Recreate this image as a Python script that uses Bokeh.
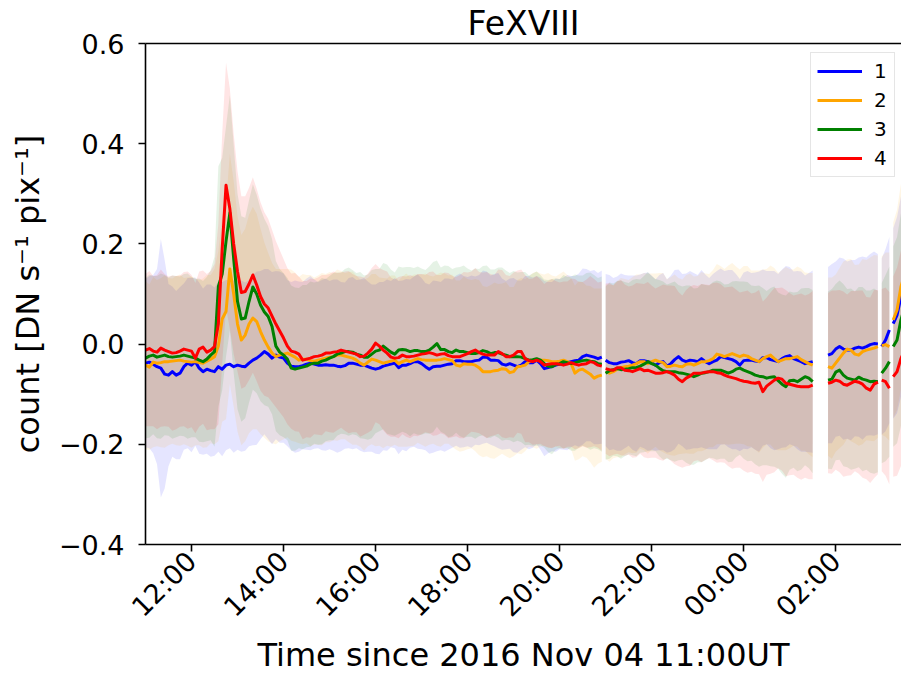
import numpy as np
from bokeh.plotting import figure
from bokeh.models import Range1d, FixedTicker, LinearAxis, Legend, LegendItem, ColumnDataSource
from bokeh.embed import file_html
from bokeh.resources import INLINE

# ---------------- data ----------------
# observation segments, minutes since 2016 Nov 04 11:00 UT (5-minute cadence), data gaps between them
segment_bounds_min = [(0, 595), (600, 870), (890, 955), (960, 970), (975, 990)]
cadence_min = 5
series_names = ["1", "2", "3", "4"]
series_colors = ["blue", "orange", "green", "red"]

count_1 = [
    -0.038, -0.036, -0.040, -0.045, -0.048, -0.060, -0.062, -0.055, -0.062, -0.058,
    -0.045, -0.038, -0.042, -0.035, -0.048, -0.055, -0.050, -0.053, -0.055, -0.045,
    -0.050, -0.042, -0.040, -0.045, -0.042, -0.044, -0.045, -0.038, -0.032, -0.028,
    -0.022, -0.015, -0.020, -0.028, -0.022, -0.026, -0.028, -0.038, -0.044, -0.045,
    -0.045, -0.043, -0.040, -0.038, -0.040, -0.042, -0.042, -0.041, -0.042, -0.042,
    -0.044, -0.045, -0.043, -0.038, -0.038, -0.040, -0.042, -0.042, -0.045, -0.048,
    -0.050, -0.048, -0.044, -0.042, -0.040, -0.038,
    -0.047, -0.042, -0.042, -0.039, -0.035, -0.035, -0.039, -0.045, -0.050, -0.045,
    -0.044, -0.044, -0.042, -0.040, -0.039, -0.033, -0.033, -0.035, -0.035, -0.035,
    -0.033, -0.032, -0.026, -0.026, -0.032, -0.032, -0.033, -0.040, -0.042, -0.039,
    -0.042, -0.045, -0.042, -0.035, -0.037, -0.037, -0.032, -0.039, -0.049, -0.047,
    -0.045, -0.042, -0.040, -0.039, -0.037, -0.035, -0.033, -0.032, -0.025, -0.022,
    -0.024, -0.026, -0.029, -0.026,
    -0.032, -0.037, -0.039, -0.039, -0.036, -0.035, -0.033, -0.037, -0.039, -0.033, -0.033,
    -0.035, -0.037, -0.042, -0.037, -0.035, -0.044, -0.039, -0.031, -0.025, -0.032,
    -0.035, -0.032, -0.033, -0.035, -0.029, -0.035, -0.039, -0.035, -0.032, -0.025,
    -0.027, -0.029, -0.031, -0.035, -0.042, -0.033, -0.032, -0.032, -0.034, -0.035,
    -0.027, -0.027, -0.031, -0.033, -0.035, -0.029, -0.025, -0.023, -0.029, -0.032,
    -0.035, -0.039, -0.037, -0.035,
    -0.022, -0.019, -0.010, -0.005, -0.010, -0.012, -0.012, -0.008, -0.006, -0.008,
    -0.005, -0.001, 0.001, 0.000,
    -0.005, 0.008, 0.028,
    0.041, 0.058, 0.094, 0.120,
]
count_2 = [
    -0.042, -0.046, -0.036, -0.038, -0.037, -0.035, -0.035, -0.034, -0.033, -0.032,
    -0.034, -0.035, -0.036, -0.035, -0.037, -0.038, -0.034, -0.030,
    -0.025, -0.004, 0.050, 0.065, 0.150, 0.100, 0.040, 0.008, 0.018, 0.040,
    0.052, 0.045, 0.025, 0.008, -0.006, -0.018, -0.025, -0.022, -0.020, -0.018,
    -0.022, -0.026, -0.032, -0.030, -0.030, -0.033, -0.034, -0.032, -0.030, -0.028,
    -0.026, -0.025, -0.022, -0.022, -0.024, -0.026, -0.028, -0.032, -0.038, -0.042,
    -0.036, -0.030, -0.032, -0.035, -0.038, -0.036, -0.034, -0.032,
    -0.039, -0.035, -0.032, -0.035, -0.032, -0.029, -0.031, -0.032, -0.032, -0.032,
    -0.032, -0.031, -0.029, -0.031, -0.033, -0.042, -0.044, -0.039, -0.040, -0.040,
    -0.042, -0.047, -0.055, -0.055, -0.055, -0.053, -0.052, -0.049, -0.050, -0.057,
    -0.055, -0.045, -0.044, -0.042, -0.035, -0.032, -0.032, -0.032, -0.032, -0.033,
    -0.035, -0.035, -0.034, -0.032, -0.035, -0.039, -0.058, -0.052, -0.050, -0.055,
    -0.060, -0.068, -0.064, -0.062,
    -0.055, -0.058, -0.055, -0.050, -0.047, -0.045, -0.044, -0.042, -0.039, -0.035, -0.035,
    -0.039, -0.035, -0.032, -0.035, -0.037, -0.045, -0.044, -0.042, -0.044, -0.045,
    -0.040, -0.039, -0.042, -0.039, -0.035, -0.035, -0.033, -0.029, -0.020, -0.022,
    -0.025, -0.022, -0.019, -0.022, -0.025, -0.022, -0.024, -0.029, -0.032, -0.035,
    -0.029, -0.025, -0.022, -0.029, -0.035, -0.032, -0.029, -0.029, -0.027, -0.025,
    -0.031, -0.035, -0.039, -0.042,
    -0.045, -0.048, -0.038, -0.028, -0.018, -0.010, -0.012, -0.020, -0.022, -0.015,
    -0.012, -0.010, -0.008, -0.005,
    -0.003, -0.001, -0.005,
    0.048, 0.068, 0.114, 0.140,
]
count_3 = [
    -0.028, -0.024, -0.022, -0.026, -0.024, -0.022, -0.025, -0.026, -0.025, -0.024,
    -0.022, -0.024, -0.026, -0.028, -0.032, -0.035, -0.030, -0.022,
    -0.015, 0.115, 0.140, 0.205, 0.262, 0.170, 0.085, 0.050, 0.052, 0.085,
    0.114, 0.100, 0.078, 0.064, 0.055, 0.035, -0.004, -0.016, -0.022, -0.030,
    -0.048, -0.050, -0.048, -0.046, -0.044, -0.040, -0.038, -0.038, -0.034, -0.032,
    -0.028, -0.025, -0.020, -0.018, -0.015, -0.015, -0.016, -0.020, -0.022, -0.026,
    -0.026, -0.020, -0.014, -0.012, -0.004, -0.010, -0.016, -0.020,
    -0.012, -0.011, -0.012, -0.015, -0.013, -0.013, -0.015, -0.015, -0.012, -0.006,
    0.001, -0.011, -0.011, -0.015, -0.017, -0.012, -0.015, -0.015, -0.017, -0.019,
    -0.019, -0.017, -0.013, -0.015, -0.019, -0.017, -0.017, -0.020, -0.022, -0.025,
    -0.025, -0.025, -0.026, -0.029, -0.032, -0.031, -0.029, -0.032, -0.039, -0.044,
    -0.045, -0.040, -0.039, -0.035, -0.037, -0.039, -0.037, -0.035, -0.033, -0.032,
    -0.034, -0.035, -0.039, -0.040,
    -0.058, -0.053, -0.051, -0.049, -0.051, -0.050, -0.049, -0.047, -0.047, -0.044, -0.040,
    -0.035, -0.039, -0.042, -0.048, -0.053, -0.055, -0.055, -0.055, -0.057, -0.058,
    -0.060, -0.062, -0.065, -0.062, -0.058, -0.057, -0.055, -0.052, -0.052, -0.052,
    -0.055, -0.058, -0.055, -0.050, -0.048, -0.052, -0.055, -0.058, -0.062, -0.064,
    -0.065, -0.068, -0.066, -0.065, -0.073, -0.080, -0.085, -0.073, -0.072, -0.075,
    -0.070, -0.065, -0.068, -0.075,
    -0.072, -0.070, -0.056, -0.052, -0.062, -0.068, -0.070, -0.072, -0.066, -0.070,
    -0.072, -0.075, -0.074, -0.075,
    -0.058, -0.048, -0.035,
    -0.005, 0.008, 0.048, 0.074,
]
count_4 = [
    -0.012, -0.009, -0.014, -0.016, -0.008, -0.012, -0.015, -0.018, -0.017, -0.014,
    -0.010, -0.012, -0.014, -0.028, -0.010, -0.006, -0.016, -0.012,
    -0.005, 0.040, 0.190, 0.317, 0.270, 0.200, 0.145, 0.103, 0.105, 0.120,
    0.138, 0.118, 0.095, 0.080, 0.072, 0.056, 0.040, 0.026, 0.012, -0.004,
    -0.014, -0.016, -0.020, -0.032, -0.030, -0.028, -0.025, -0.024, -0.022, -0.018,
    -0.018, -0.016, -0.015, -0.012, -0.014, -0.016, -0.018, -0.020, -0.025, -0.024,
    -0.018, -0.010, 0.002, -0.004, -0.012, -0.018, -0.026, -0.028,
    -0.027, -0.022, -0.025, -0.025, -0.024, -0.022, -0.020, -0.019, -0.017, -0.019,
    -0.022, -0.020, -0.019, -0.023, -0.025, -0.025, -0.025, -0.022, -0.019, -0.015,
    -0.012, -0.017, -0.020, -0.022, -0.022, -0.022, -0.015, -0.019, -0.025, -0.025,
    -0.022, -0.015, -0.015, -0.029, -0.033, -0.035, -0.032, -0.035, -0.042, -0.040,
    -0.039, -0.039, -0.040, -0.042, -0.040, -0.037, -0.040, -0.042, -0.040, -0.039,
    -0.035, -0.037, -0.042, -0.044,
    -0.049, -0.051, -0.052, -0.047, -0.047, -0.052, -0.053, -0.055, -0.052, -0.049, -0.053,
    -0.052, -0.055, -0.058, -0.058, -0.057, -0.055, -0.058, -0.062, -0.070, -0.075,
    -0.068, -0.064, -0.058, -0.058, -0.058, -0.056, -0.055, -0.055, -0.057, -0.058,
    -0.062, -0.065, -0.067, -0.069, -0.072, -0.074, -0.075, -0.077, -0.078, -0.076,
    -0.095, -0.084, -0.078, -0.072, -0.068, -0.070, -0.078, -0.080, -0.082, -0.084,
    -0.085, -0.085, -0.085, -0.082,
    -0.078, -0.076, -0.072, -0.074, -0.080, -0.082, -0.078, -0.074, -0.076, -0.080,
    -0.088, -0.092, -0.080, -0.076,
    -0.072, -0.075, -0.088,
    -0.065, -0.055, -0.029, -0.012,
]

# spread (1 sigma) of each series
sigma_1 = [
    0.168, 0.172, 0.178, 0.195, 0.258, 0.228, 0.182, 0.170, 0.168, 0.172,
    0.166, 0.170, 0.174, 0.168, 0.171, 0.166, 0.169, 0.172, 0.168, 0.170,
    0.174, 0.170, 0.168, 0.172, 0.169, 0.171, 0.168, 0.166, 0.170, 0.173,
    0.168, 0.165, 0.170, 0.172, 0.168, 0.171, 0.169, 0.166, 0.168, 0.172,
    0.170, 0.167, 0.171, 0.174, 0.169, 0.166, 0.170, 0.172, 0.168, 0.171,
    0.173, 0.169, 0.166, 0.170, 0.172, 0.168, 0.171, 0.174, 0.170, 0.167,
    0.169, 0.172, 0.168, 0.171, 0.166, 0.170, 0.173, 0.169, 0.172, 0.168,
    0.170, 0.174, 0.171, 0.167, 0.169, 0.172, 0.170, 0.168, 0.173, 0.171,
    0.168, 0.170, 0.174, 0.171, 0.169, 0.172, 0.168, 0.170, 0.173, 0.171,
    0.169, 0.172, 0.175, 0.171, 0.168, 0.170, 0.174, 0.172, 0.169, 0.171,
    0.173, 0.170, 0.168, 0.172, 0.175, 0.171, 0.169, 0.173, 0.170, 0.172,
    0.175, 0.171, 0.169, 0.173, 0.176, 0.172, 0.170, 0.174, 0.171, 0.173,
    0.172, 0.175, 0.171, 0.174, 0.177, 0.173, 0.170, 0.174, 0.176, 0.172,
    0.175, 0.178, 0.174, 0.171, 0.175, 0.177, 0.173, 0.176, 0.179, 0.174,
    0.172, 0.176, 0.178, 0.175, 0.173, 0.177, 0.174, 0.171, 0.175, 0.178,
    0.176, 0.173, 0.177, 0.179, 0.175, 0.172, 0.176, 0.178, 0.174, 0.177,
    0.180, 0.176, 0.173, 0.177, 0.179, 0.175, 0.178, 0.181, 0.177, 0.174,
    0.178, 0.180, 0.176, 0.179, 0.182,
    0.176, 0.179, 0.175, 0.178, 0.181, 0.177, 0.180, 0.176, 0.179, 0.183,
    0.178, 0.181, 0.184, 0.180,
    0.176, 0.182, 0.186,
    0.190, 0.196, 0.200, 0.205,
]
sigma_2 = [
    0.168, 0.165, 0.170, 0.166, 0.169, 0.172, 0.167, 0.165, 0.169, 0.171,
    0.166, 0.168, 0.171, 0.167, 0.165, 0.169, 0.172, 0.168, 0.175, 0.190,
    0.205, 0.215, 0.230, 0.225, 0.215, 0.210, 0.212, 0.218, 0.222, 0.215,
    0.205, 0.195, 0.188, 0.180, 0.175, 0.172, 0.170, 0.168, 0.171, 0.169,
    0.166, 0.170, 0.168, 0.171, 0.167, 0.169, 0.172, 0.168, 0.170, 0.167,
    0.171, 0.168, 0.166, 0.170, 0.173, 0.169, 0.167, 0.171, 0.168, 0.170,
    0.172, 0.168, 0.170, 0.167, 0.171, 0.169, 0.166, 0.170, 0.173, 0.169,
    0.171, 0.168, 0.170, 0.173, 0.169, 0.167, 0.171, 0.174, 0.170, 0.168,
    0.172, 0.169, 0.171, 0.174, 0.170, 0.168, 0.172, 0.175, 0.171, 0.169,
    0.173, 0.176, 0.172, 0.170, 0.174, 0.171, 0.169, 0.173, 0.176, 0.172,
    0.170, 0.174, 0.177, 0.173, 0.171, 0.175, 0.172, 0.170, 0.174, 0.177,
    0.173, 0.171, 0.175, 0.178, 0.174, 0.172, 0.176, 0.179, 0.175, 0.173,
    0.174, 0.177, 0.173, 0.176, 0.179, 0.175, 0.172, 0.176, 0.178, 0.174,
    0.177, 0.180, 0.176, 0.173, 0.177, 0.179, 0.175, 0.178, 0.181, 0.176,
    0.174, 0.178, 0.180, 0.177, 0.175, 0.179, 0.176, 0.173, 0.177, 0.180,
    0.178, 0.175, 0.179, 0.181, 0.177, 0.174, 0.178, 0.180, 0.176, 0.179,
    0.182, 0.178, 0.175, 0.179, 0.181, 0.177, 0.180, 0.183, 0.179, 0.176,
    0.180, 0.182, 0.178, 0.181, 0.184,
    0.178, 0.181, 0.177, 0.180, 0.183, 0.179, 0.182, 0.178, 0.181, 0.185,
    0.180, 0.183, 0.186, 0.182,
    0.178, 0.184, 0.188,
    0.195, 0.200, 0.205, 0.210,
]
sigma_3 = [
    0.160, 0.163, 0.158, 0.162, 0.165, 0.160, 0.158, 0.163, 0.161, 0.159,
    0.162, 0.165, 0.160, 0.158, 0.163, 0.161, 0.164, 0.170, 0.190, 0.240,
    0.232, 0.230, 0.235, 0.228, 0.215, 0.205, 0.200, 0.202, 0.205, 0.198,
    0.192, 0.186, 0.180, 0.175, 0.170, 0.166, 0.164, 0.162, 0.165, 0.163,
    0.160, 0.164, 0.162, 0.165, 0.161, 0.163, 0.166, 0.162, 0.164, 0.167,
    0.163, 0.161, 0.165, 0.168, 0.164, 0.162, 0.166, 0.163, 0.165, 0.168,
    0.164, 0.162, 0.166, 0.169, 0.165, 0.163, 0.167, 0.164, 0.166, 0.169,
    0.165, 0.168, 0.166, 0.163, 0.167, 0.170, 0.166, 0.164, 0.168, 0.171,
    0.167, 0.165, 0.169, 0.172, 0.168, 0.166, 0.170, 0.167, 0.169, 0.172,
    0.168, 0.166, 0.170, 0.173, 0.169, 0.167, 0.171, 0.168, 0.170, 0.173,
    0.169, 0.172, 0.174, 0.170, 0.168, 0.172, 0.175, 0.171, 0.169, 0.173,
    0.171, 0.174, 0.176, 0.172, 0.170, 0.174, 0.177, 0.173, 0.171, 0.175,
    0.173, 0.176, 0.172, 0.175, 0.178, 0.174, 0.171, 0.175, 0.177, 0.173,
    0.176, 0.179, 0.175, 0.172, 0.176, 0.178, 0.174, 0.177, 0.180, 0.175,
    0.173, 0.177, 0.179, 0.176, 0.174, 0.178, 0.175, 0.172, 0.176, 0.179,
    0.177, 0.174, 0.178, 0.180, 0.176, 0.173, 0.177, 0.179, 0.175, 0.178,
    0.181, 0.177, 0.174, 0.178, 0.180, 0.176, 0.179, 0.182, 0.178, 0.175,
    0.179, 0.181, 0.177, 0.180, 0.183,
    0.177, 0.180, 0.176, 0.179, 0.182, 0.178, 0.181, 0.177, 0.180, 0.184,
    0.179, 0.182, 0.185, 0.181,
    0.180, 0.186, 0.190,
    0.200, 0.206, 0.212, 0.218,
]
sigma_4 = [
    0.152, 0.155, 0.150, 0.154, 0.157, 0.152, 0.150, 0.155, 0.153, 0.151,
    0.154, 0.157, 0.152, 0.150, 0.155, 0.153, 0.156, 0.158, 0.165, 0.200,
    0.230, 0.245, 0.240, 0.220, 0.200, 0.192, 0.190, 0.192, 0.195, 0.192,
    0.188, 0.183, 0.178, 0.172, 0.166, 0.162, 0.158, 0.156, 0.155, 0.158,
    0.155, 0.158, 0.156, 0.159, 0.155, 0.157, 0.160, 0.156, 0.158, 0.161,
    0.157, 0.155, 0.159, 0.162, 0.158, 0.156, 0.160, 0.157, 0.159, 0.162,
    0.158, 0.156, 0.160, 0.163, 0.159, 0.157, 0.161, 0.158, 0.160, 0.163,
    0.159, 0.162, 0.160, 0.157, 0.161, 0.164, 0.160, 0.158, 0.162, 0.165,
    0.161, 0.159, 0.163, 0.166, 0.162, 0.160, 0.164, 0.161, 0.163, 0.166,
    0.162, 0.160, 0.164, 0.167, 0.163, 0.161, 0.165, 0.162, 0.164, 0.167,
    0.163, 0.166, 0.168, 0.164, 0.162, 0.166, 0.169, 0.165, 0.163, 0.167,
    0.165, 0.168, 0.170, 0.166, 0.164, 0.168, 0.171, 0.167, 0.165, 0.169,
    0.170, 0.173, 0.169, 0.172, 0.175, 0.171, 0.168, 0.172, 0.174, 0.170,
    0.173, 0.176, 0.172, 0.169, 0.173, 0.176, 0.172, 0.175, 0.178, 0.174,
    0.172, 0.176, 0.179, 0.176, 0.174, 0.178, 0.175, 0.173, 0.177, 0.180,
    0.178, 0.175, 0.179, 0.182, 0.178, 0.175, 0.179, 0.182, 0.178, 0.181,
    0.184, 0.180, 0.177, 0.181, 0.184, 0.180, 0.183, 0.186, 0.182, 0.179,
    0.183, 0.186, 0.182, 0.185, 0.188,
    0.180, 0.183, 0.179, 0.182, 0.185, 0.181, 0.184, 0.180, 0.183, 0.187,
    0.182, 0.185, 0.188, 0.184,
    0.182, 0.188, 0.192,
    0.200, 0.208, 0.215, 0.220,
]

x_tick_hours = [1, 3, 5, 7, 9, 11, 13, 15]
x_tick_labels = ["12:00", "14:00", "16:00", "18:00", "20:00", "22:00", "00:00", "02:00"]
y_ticks = [-0.4, -0.2, 0.0, 0.2, 0.4, 0.6]
y_tick_labels = ["\u22120.4", "\u22120.2", "0.0", "0.2", "0.4", "0.6"]
x_view_hours = (0.0, 16.43)
y_view = (-0.4, 0.6)

# ---------------- build ----------------
seg_minutes = [np.arange(a, b + 1, cadence_min) for a, b in segment_bounds_min]
n_total = sum(len(s) for s in seg_minutes)
counts = [count_1, count_2, count_3, count_4]
sigmas = [sigma_1, sigma_2, sigma_3, sigma_4]
for arr in counts + sigmas:
    assert len(arr) == n_total, (len(arr), n_total)

FONT = "DejaVu Sans"
p = figure(width=901, height=677, output_backend="svg", toolbar_location=None,
           x_range=Range1d(*x_view_hours), y_range=Range1d(*y_view),
           min_border_left=145, min_border_right=0, min_border_top=43, min_border_bottom=132,
           title="FeXVIII")
p.title.align = "center"
p.title.text_font = FONT
p.title.text_font_size = "33px"
p.title.text_font_style = "normal"
p.title.text_color = "black"
p.title.standoff = 1
p.grid.visible = False
p.outline_line_color = None
p.background_fill_color = "white"
p.border_fill_color = "white"

# bands
for c, s, col in zip(counts, sigmas, series_colors):
    c = np.array(c); s = np.array(s)
    start = 0
    for mins in seg_minutes:
        n = len(mins)
        src = ColumnDataSource(dict(t=mins / 60.0, lo=c[start:start + n] - s[start:start + n],
                                    hi=c[start:start + n] + s[start:start + n]))
        p.varea(x="t", y1="lo", y2="hi", source=src, fill_color=col, fill_alpha=0.1)
        start += n

# lines
legend_items = []
for c, col, name in zip(counts, series_colors, series_names):
    c = np.array(c)
    start = 0
    first = None
    for mins in seg_minutes:
        n = len(mins)
        src = ColumnDataSource(dict(t=mins / 60.0, v=c[start:start + n]))
        r = p.line(x="t", y="v", source=src, line_color=col, line_width=3, line_join="round")
        if first is None:
            first = r
        start += n
    legend_items.append(LegendItem(label=name, renderers=[first]))

# axes
for ax in (p.xaxis[0], p.yaxis[0]):
    ax.axis_line_width = 1.6
    ax.axis_line_color = "black"
    ax.major_tick_line_width = 1.6
    ax.major_tick_line_color = "black"
    ax.major_tick_out = 7
    ax.major_tick_in = 0
    ax.minor_tick_line_color = None
    ax.major_label_text_font = FONT
    ax.major_label_text_font_size = "27px"
    ax.major_label_text_color = "black"
    ax.axis_label_text_font = FONT
    ax.axis_label_text_font_size = "32px"
    ax.axis_label_text_font_style = "normal"
    ax.axis_label_text_color = "black"

p.xaxis.ticker = FixedTicker(ticks=x_tick_hours)
p.xaxis.major_label_overrides = dict(zip(x_tick_hours, x_tick_labels))
p.xaxis.major_label_orientation = np.pi / 4
p.xaxis.major_label_standoff = 5
p.xaxis.axis_label = "Time since 2016 Nov 04 11:00UT"
p.xaxis.axis_label_standoff = 0

p.yaxis.ticker = FixedTicker(ticks=y_ticks)
p.yaxis.major_label_overrides = dict(zip(y_ticks, y_tick_labels))
p.yaxis.major_label_standoff = 14
p.yaxis.axis_label = "count [DN s\u207b\u00b9 pix\u207b\u00b9]"
p.yaxis.axis_label_standoff = 9

top = LinearAxis(ticker=FixedTicker(ticks=[]), axis_line_width=1.6, axis_line_color="black",
                 major_tick_line_color=None, minor_tick_line_color=None,
                 major_tick_out=0, minor_tick_out=0, major_label_text_font_size="0px")
p.add_layout(top, "above")

legend = Legend(items=legend_items, location=(665, 367))
legend.label_text_font = FONT
legend.label_text_font_size = "20px"
legend.label_text_color = "black"
legend.glyph_width = 45
legend.glyph_height = 24
legend.label_height = 24
legend.label_width = 14
legend.spacing = 5
legend.padding = 6
legend.label_standoff = 12
legend.border_line_color = "#cccccc"
legend.border_line_width = 1
legend.background_fill_alpha = 0.8
p.add_layout(legend)

open("out.html", "w").write(file_html(p, INLINE))
